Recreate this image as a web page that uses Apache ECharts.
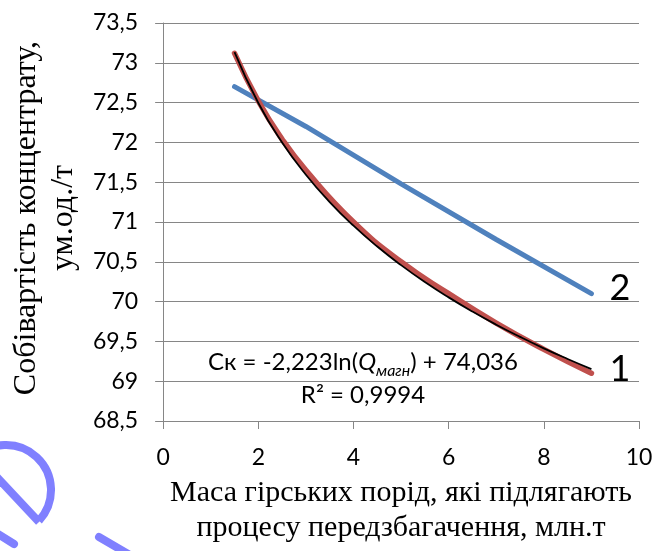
<!DOCTYPE html>
<html>
<head>
<meta charset="utf-8">
<script src="https://cdn.jsdelivr.net/npm/echarts@6/dist/echarts.min.js"></script>
<style>
html,body{margin:0;padding:0;background:#fff;}
#c{width:662px;height:551px;}
</style>
</head>
<body>
<div id="c"></div>
<script>
// Curve 1 (measured data, red)
const redX = [1.5, 2, 2.5, 3, 4, 5, 6, 7, 8, 9];
const redY = [73.12, 72.52, 72.04, 71.65, 71.0, 70.5, 70.1, 69.73, 69.4, 69.1];
// Logarithmic trend line of curve 1 (black), Ск = -2,223ln(Q) + 74,036
const trendX = [1.5, 2, 2.5, 3, 3.5, 4, 4.5, 5, 5.5, 6, 6.5, 7, 7.5, 8, 8.5, 9];
const trendY = [73.135, 72.495, 71.999, 71.594, 71.251, 70.954, 70.692, 70.458, 70.246, 70.053, 69.875, 69.710, 69.557, 69.413, 69.279, 69.152];
// Curve 2 (blue)
const blueX = [1.5, 3, 5, 7, 9];
const blueY = [72.7, 72.2, 71.48, 70.78, 70.1];
// Labels
const curveLabels = ['1', '2'];
const xAxisTitle = 'Маса гірських порід, які підлягають\nпроцесу передзбагачення, млн.т';
const yAxisTitle = 'Собівартість концентрату,\nум.од./т';

const pairs = (xs, ys) => xs.map((x, i) => [x, ys[i]]);
const gridColor = '#868686';
const sans = 'Lato';
const serif = '"Liberation Serif", "DejaVu Serif", serif';

const chart = echarts.init(document.getElementById('c'), null, {renderer: 'canvas'});
chart.setOption({
  animation: false,
  backgroundColor: '#ffffff',
  grid: {left: 159, right: 23, top: 23, bottom: 130, containLabel: false},
  xAxis: {
    type: 'value', min: 0, max: 10, interval: 2,
    name: xAxisTitle, nameLocation: 'middle', nameGap: 55,
    nameTextStyle: {fontFamily: serif, fontSize: 30, lineHeight: 35, color: '#000'},
    axisLine: {show: true, lineStyle: {color: gridColor, width: 1}},
    axisTick: {show: true, inside: false, length: 8, lineStyle: {color: gridColor, width: 1}},
    splitLine: {show: false},
    axisLabel: {fontFamily: sans, fontSize: 23, color: '#000', margin: 25}
  },
  yAxis: {
    type: 'value', min: 68.5, max: 73.5, interval: 0.5,
    name: yAxisTitle, nameLocation: 'middle', nameRotate: 90, nameGap: 80,
    nameTextStyle: {fontFamily: serif, fontSize: 32, lineHeight: 37, color: '#000', padding: [0, 0, 0, 8]},
    axisLine: {show: true, lineStyle: {color: gridColor, width: 1}},
    axisTick: {show: true, inside: false, length: 8, lineStyle: {color: gridColor, width: 1}},
    splitLine: {show: true, lineStyle: {color: gridColor, width: 1}},
    axisLabel: {fontFamily: sans, fontSize: 23, color: '#000', margin: 25,
      formatter: v => String(Math.round(v * 10) / 10).replace('.', ',')}
  },
  series: [
    {
      type: 'line', name: '2', data: pairs(blueX, blueY), showSymbol: false, smooth: false,
      lineStyle: {color: '#4F81BD', width: 5, cap: 'round'}, z: 2,
      endLabel: {show: true, formatter: curveLabels[1], fontFamily: sans, fontSize: 36, color: '#000', distance: 18, offset: [0, -5]}
    },
    {
      type: 'line', name: '1', data: pairs(redX, redY), showSymbol: false, smooth: true,
      lineStyle: {color: '#C0504D', width: 5.5, cap: 'round'}, z: 3,
      endLabel: {show: true, formatter: curveLabels[0], fontFamily: sans, fontSize: 36, color: '#000', distance: 18, offset: [0, -4]}
    },
    {
      type: 'line', name: 'trend', data: pairs(trendX, trendY), showSymbol: false, smooth: true,
      lineStyle: {color: '#000000', width: 1.8}, z: 4
    }
  ],
  graphic: [
    {
      type: 'text', x: 363, y: 346, z: 10,
      style: {
        text: 'Ск = -2,223ln({q|Q}{s|магн}) + 74,036\nR² = 0,9994',
        align: 'center', verticalAlign: 'top',
        fontFamily: sans, fontSize: 24, lineHeight: 33, fill: '#000',
        rich: {
          q: {fontFamily: sans, fontSize: 24, fontStyle: 'italic', lineHeight: 33, fill: '#000'},
          s: {fontFamily: sans, fontSize: 16, fontStyle: 'italic', lineHeight: 20, verticalAlign: 'bottom', fill: '#000'}
        }
      }
    },
    {type: 'arc', silent: true, shape: {cx: 6, cy: 490, r: 45, startAngle: 0.75, endAngle: -3.6, clockwise: false},
      style: {stroke: '#8080ff', lineWidth: 8, fill: null}},
    {type: 'line', silent: true, shape: {x1: 39, y1: 522, x2: -20, y2: 459},
      style: {stroke: '#8080ff', lineWidth: 8}},
    {type: 'line', silent: true, shape: {x1: -5, y1: 532, x2: 14, y2: 544},
      style: {stroke: '#8080ff', lineWidth: 8, lineCap: 'round'}},
    {type: 'line', silent: true, shape: {x1: 99, y1: 537, x2: 135, y2: 558},
      style: {stroke: '#8080ff', lineWidth: 8, lineCap: 'round'}}
  ]
});
</script>
</body>
</html>
